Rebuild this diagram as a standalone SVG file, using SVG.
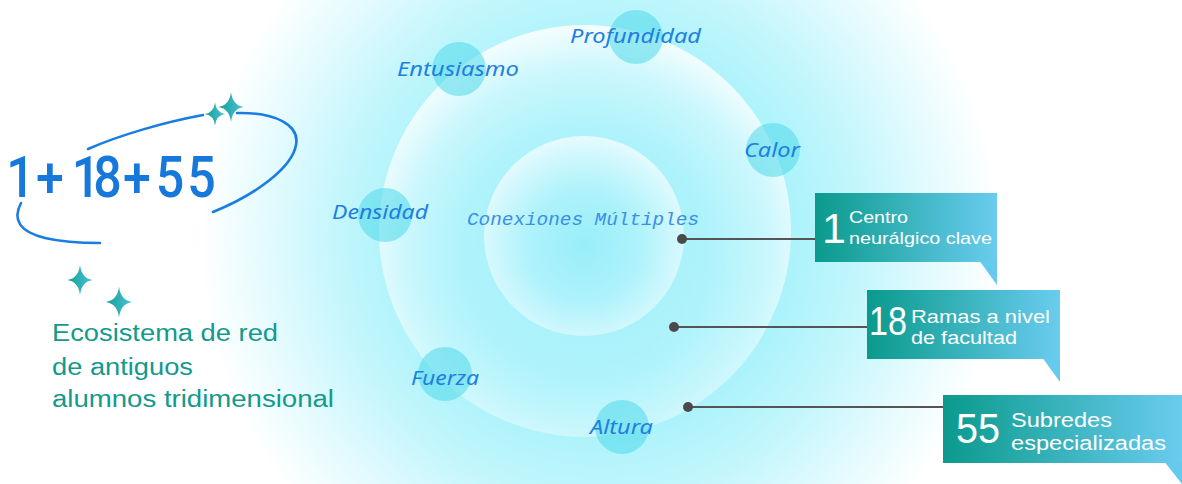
<svg xmlns="http://www.w3.org/2000/svg" xmlns:xlink="http://www.w3.org/1999/xlink" width="1182" height="484" viewBox="0 0 1182 484">
<style>
.lbl{font-family:"Noto Sans","Open Sans",sans-serif;font-style:italic;font-size:19px;fill:#1f7fe0}
.ctr{font-family:"Liberation Mono",monospace;font-style:italic;font-size:19px;fill:#3a8fe6}
.node{fill:#4fd8ea;fill-opacity:0.55}
.con{stroke:#555;stroke-width:2.2;fill:none}
.dot{fill:#4a4a4a}
.num{font-family:"Liberation Sans",Arial,sans-serif;fill:#fff}
.bt{font-family:"Liberation Sans",Arial,sans-serif;fill:#fff}
.orbit{fill:none;stroke:#1a7de0;stroke-width:2.6;stroke-linecap:round}
.tt{font-family:"Liberation Sans",Arial,sans-serif;font-size:23px;fill:#13998d}
</style>
<defs>
<radialGradient id="glow" gradientUnits="userSpaceOnUse" cx="600" cy="240" r="400">
<stop offset="0" stop-color="#9ef0fb"/>
<stop offset="0.45" stop-color="#a8f2fb"/>
<stop offset="0.65" stop-color="#c2f6fc"/>
<stop offset="0.85" stop-color="#e6fbfe"/>
<stop offset="1" stop-color="#ffffff"/>
</radialGradient>
<radialGradient id="outer" cx="0.5" cy="0.56" r="0.56">
<stop offset="0" stop-color="#fff" stop-opacity="0"/>
<stop offset="0.55" stop-color="#fff" stop-opacity="0.12"/>
<stop offset="0.8" stop-color="#fff" stop-opacity="0.4"/>
<stop offset="1" stop-color="#fff" stop-opacity="0.85"/>
</radialGradient>
<radialGradient id="inner" cx="0.5" cy="0.55" r="0.55">
<stop offset="0" stop-color="#98eefa"/>
<stop offset="0.5" stop-color="#aef2fb"/>
<stop offset="0.85" stop-color="#d2f8fd"/>
<stop offset="1" stop-color="#e6fbfe"/>
</radialGradient>
<linearGradient id="box" x1="0" y1="0" x2="1" y2="0">
<stop offset="0" stop-color="#0a9a8c"/>
<stop offset="1" stop-color="#6accef"/>
</linearGradient>
<linearGradient id="starg" x1="0" y1="0" x2="1" y2="0">
<stop offset="0" stop-color="#139f95"/>
<stop offset="1" stop-color="#4cc2d8"/>
</linearGradient>
<path id="star" d="M0,-1 Q0.12,-0.12 1,0 Q0.12,0.12 0,1 Q-0.12,0.12 -1,0 Q-0.12,-0.12 0,-1Z"/>
</defs>

<rect x="0" y="0" width="1182" height="484" fill="#fff"/>
<rect x="0" y="0" width="1182" height="484" fill="url(#glow)"/>

<g id="rings">
<circle cx="585" cy="231" r="206" fill="url(#outer)"/>
<circle cx="584" cy="236" r="100" fill="url(#inner)"/>
</g>

<g id="node-profundidad">
<circle class="node" cx="636" cy="37" r="27"/>
<text class="lbl" x="570" y="43" textLength="131" lengthAdjust="spacingAndGlyphs">Profundidad</text>
</g>
<g id="node-entusiasmo">
<circle class="node" cx="459" cy="69" r="27"/>
<text class="lbl" x="397" y="76" textLength="122" lengthAdjust="spacingAndGlyphs">Entusiasmo</text>
</g>
<g id="node-calor">
<circle class="node" cx="773" cy="150" r="27"/>
<text class="lbl" x="744" y="157" textLength="56" lengthAdjust="spacingAndGlyphs">Calor</text>
</g>
<g id="node-densidad">
<circle class="node" cx="385" cy="215" r="27"/>
<text class="lbl" x="332" y="219" textLength="96" lengthAdjust="spacingAndGlyphs">Densidad</text>
</g>
<g id="node-fuerza">
<circle class="node" cx="445" cy="374" r="27"/>
<text class="lbl" x="411" y="385" textLength="68" lengthAdjust="spacingAndGlyphs">Fuerza</text>
</g>
<g id="node-altura">
<circle class="node" cx="622" cy="427" r="27"/>
<text class="lbl" x="590" y="434" textLength="63" lengthAdjust="spacingAndGlyphs">Altura</text>
</g>

<g id="node-center">
<text class="ctr" x="467" y="225" textLength="232" lengthAdjust="spacingAndGlyphs">Conexiones Múltiples</text>
</g>

<g id="connectors">
<line class="con" x1="682" y1="239" x2="815" y2="239"/>
<circle class="dot" cx="682" cy="239" r="5"/>
<line class="con" x1="674" y1="327" x2="867" y2="327"/>
<circle class="dot" cx="674" cy="327" r="5"/>
<line class="con" x1="688" y1="407" x2="943" y2="407"/>
<circle class="dot" cx="688" cy="407" r="5"/>
</g>

<g id="callout-1">
<rect x="815" y="193" width="182" height="69" fill="url(#box)"/>
<polygon points="980,261.5 997,261.5 997,285" fill="#66c9ee"/>
<text class="num" x="822" y="243" font-size="43">1</text>
<text class="bt" x="849" y="223" font-size="17" textLength="59" lengthAdjust="spacingAndGlyphs">Centro</text>
<text class="bt" x="849" y="244" font-size="17" textLength="143" lengthAdjust="spacingAndGlyphs">neurálgico clave</text>
</g>

<g id="callout-18">
<rect x="867" y="290" width="193" height="69" fill="url(#box)"/>
<polygon points="1043,358.5 1060,358.5 1060,382" fill="#66c9ee"/>
<text class="num" x="869" y="335" font-size="41" textLength="38" lengthAdjust="spacingAndGlyphs">18</text>
<text class="bt" x="911" y="323" font-size="19" textLength="139" lengthAdjust="spacingAndGlyphs">Ramas a nivel</text>
<text class="bt" x="911" y="344" font-size="19" textLength="106" lengthAdjust="spacingAndGlyphs">de facultad</text>
</g>

<g id="callout-55">
<rect x="943" y="395" width="239" height="68" fill="url(#box)"/>
<polygon points="1165,462.5 1182,462.5 1182,484" fill="#66c9ee"/>
<text class="num" x="956" y="443" font-size="43" textLength="44" lengthAdjust="spacingAndGlyphs">55</text>
<text class="bt" x="1011" y="427" font-size="19.5" textLength="101" lengthAdjust="spacingAndGlyphs">Subredes</text>
<text class="bt" x="1011" y="450" font-size="19.5" textLength="155" lengthAdjust="spacingAndGlyphs">especializadas</text>
</g>

<g id="title">
<path class="orbit" d="M88,149 C120,135 165,122 203,115"/>
<path class="orbit" d="M237,113 C275,112 300,125 296,145 C292,168 255,195 213,212"/>
<path class="orbit" d="M21,203 C12,220 20,232 45,238 C62,242 80,243 100,243"/>
<text transform="scale(0.88,1)" x="23.3 56.8 97.7 122.2 155.7 193.2 229" y="197" text-anchor="middle" font-family="Roboto,'Liberation Sans',sans-serif" font-weight="500" font-size="57" fill="#1778dc">1+18+55</text>
<use href="#star" xlink:href="#star" transform="translate(231,107) scale(12.5,15)" fill="url(#starg)"/>
<use href="#star" xlink:href="#star" transform="translate(215,114) scale(10,11.5)" fill="url(#starg)"/>
<use href="#star" xlink:href="#star" transform="translate(80,280) scale(12.5,15)" fill="url(#starg)"/>
<use href="#star" xlink:href="#star" transform="translate(119,302) scale(13,15.5)" fill="url(#starg)"/>
</g>

<g id="subtitle">
<text class="tt" x="52" y="341" textLength="226" lengthAdjust="spacingAndGlyphs">Ecosistema de red</text>
<text class="tt" x="52" y="375" textLength="141" lengthAdjust="spacingAndGlyphs">de antiguos</text>
<text class="tt" x="52" y="407" textLength="282" lengthAdjust="spacingAndGlyphs">alumnos tridimensional</text>
</g>
</svg>
